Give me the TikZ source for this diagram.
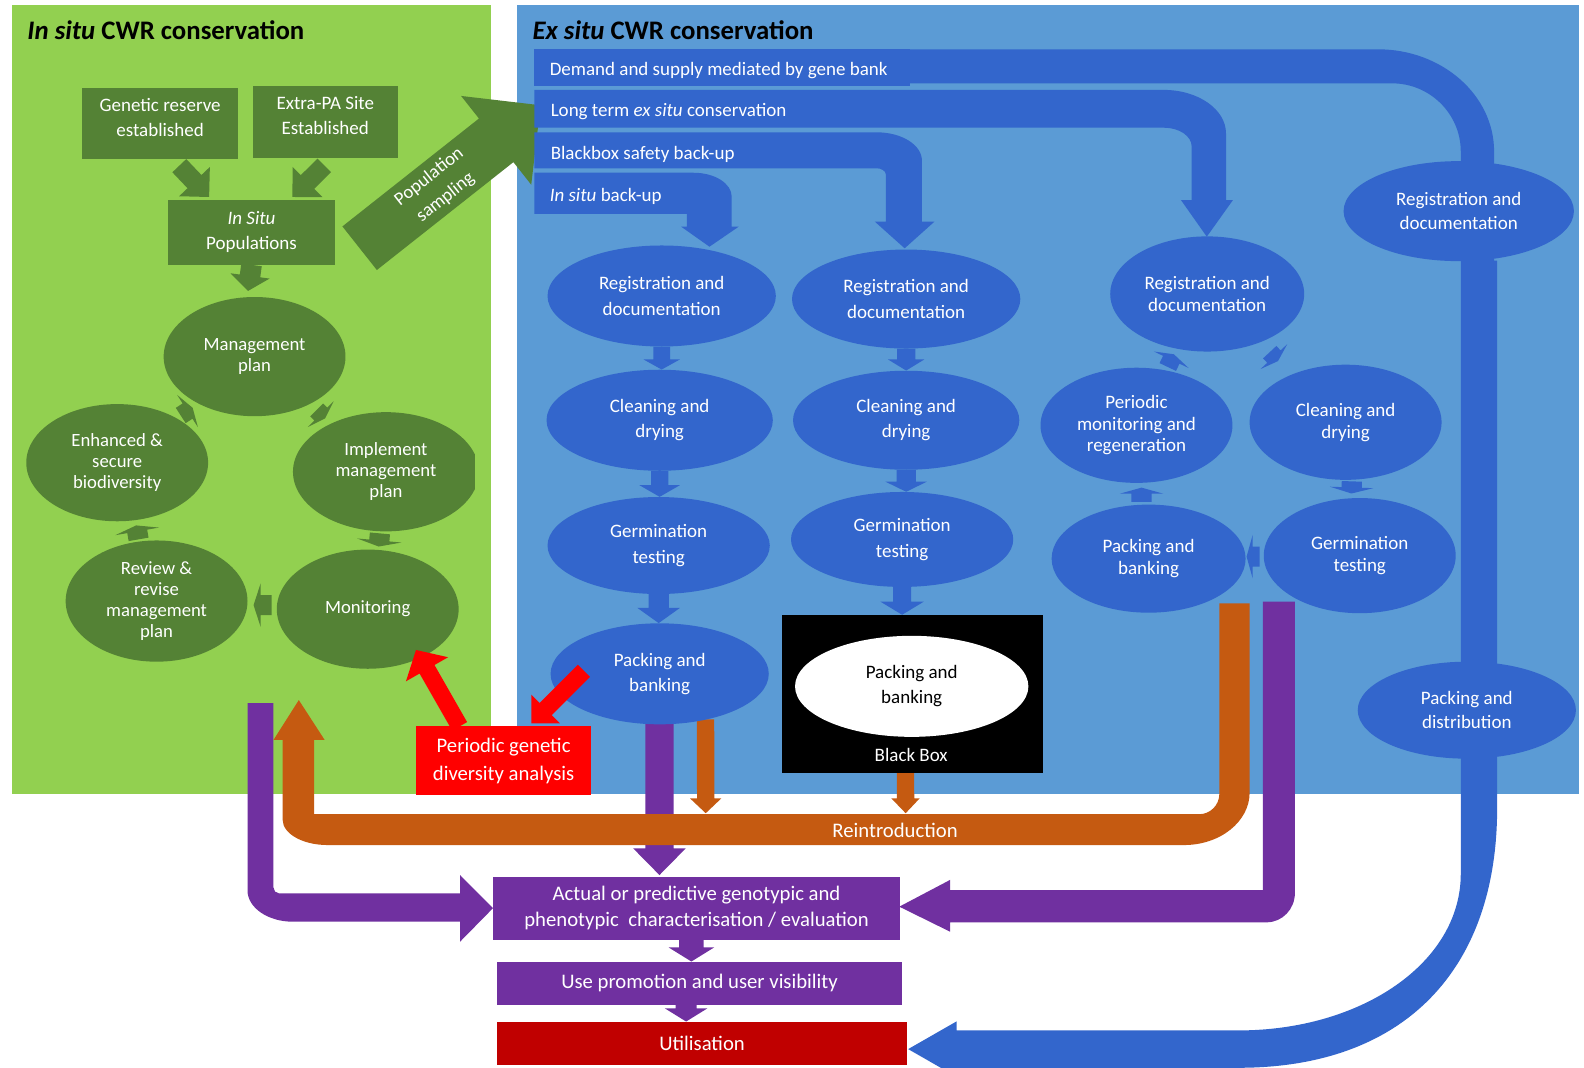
\documentclass[tikz,border=0pt]{standalone}
\usepackage{fontspec}
\setmainfont{Carlito}
\usetikzlibrary{shapes.geometric,calc}
\definecolor{lgreen}{HTML}{92D050}
\definecolor{dgreen}{HTML}{548235}
\definecolor{lblue}{HTML}{5B9BD5}
\definecolor{dblue}{HTML}{3366CC}
\definecolor{purp}{HTML}{7030A0}
\definecolor{orng}{HTML}{C55A11}
\definecolor{dred}{HTML}{C00000}
\definecolor{bred}{HTML}{FF0000}
\newcommand\myfs[2]{\fontsize{#1pt}{#2pt}\selectfont}
% block arrow: tail, tip, stem half width, head half width, head length, colour
\newcommand\barrow[6]{%
  \coordinate (hb) at ($(#2)!#5pt!(#1)$);
  \fill[#6] ($(#1)!#3pt!90:(#2)$) -- ($(hb)!#3pt!-90:(#1)$) -- ($(hb)!#4pt!-90:(#1)$) -- (#2)
    -- ($(hb)!#4pt!90:(#1)$) -- ($(hb)!#3pt!90:(#1)$) -- ($(#1)!#3pt!-90:(#2)$) -- cycle;
}
\begin{document}
\begin{tikzpicture}[x=1pt,y=-1pt,
  gbox/.style={rectangle, fill=dgreen, text=white, align=center, inner sep=0pt, font=\myfs{18.8}{25}},
  gell/.style={ellipse, fill=dgreen, text=white, align=center, inner sep=0pt, font=\myfs{18.5}{21}},
  bell/.style={ellipse, fill=dblue, text=white, align=center, inner sep=0pt, font=\myfs{18.8}{25}},
  bellc/.style={bell, font=\myfs{18.8}{21.5}},
  belld/.style={bell, font=\myfs{18.8}{24}},
  barlabel/.style={anchor=west, text=white, inner sep=0pt, font=\myfs{18.8}{22}},
  paneltitle/.style={anchor=west, inner sep=0pt, font=\bfseries\myfs{26.5}{30}},
  pbox/.style={rectangle, fill=purp, text=white, align=center, inner sep=0pt, font=\myfs{20.5}{25.5}},
]
\fill[white] (0,0) rectangle (1568,1057);
\useasboundingbox (0,0) rectangle (1568,1057);

% panels
\fill[lgreen] (12,5) rectangle (486,786);
\fill[lblue] (512,5) rectangle (1563,786);

% purple bands
\fill[purp] (245,696) -- (245,881.4) .. controls (245,898.5) and (265.2,912.4) .. (290,912.4)
  -- (455.4,912.4) -- (455.4,932.2) -- (488,899) -- (455.4,866.2) -- (455.4,884.3) -- (276,884.3)
  .. controls (273,884.3) and (270.7,881.5) .. (270.7,878.5) -- (270.7,696) -- cycle;
\fill[purp] (1250,595.6) -- (1281.8,595.6) -- (1281.8,884) .. controls (1281.8,900) and (1269.3,913) .. (1253.8,913)
  -- (940.5,913) -- (940.5,922.3) -- (890.2,897.5) -- (940.5,871) -- (940.5,881) -- (1250,881) -- cycle;
\coordinate (pAt) at (652.8,712);
\coordinate (pAh) at (652.8,866.2);
\barrow{pAt}{pAh}{14}{26}{26.4}{purp}

% orange reintroduction band
\fill[orng] (1207,597.3) -- (1237,597.3) -- (1237,784.5) .. controls (1237,813.2) and (1207.9,836.5) .. (1172,836.5)
  -- (324.3,836.5) .. controls (299.7,836.5) and (279.8,825.3) .. (279.8,811.5) -- (279.8,732.5) -- (270.7,732.5)
  -- (295.8,693) -- (321.4,732.5) -- (311,732.5) -- (311,806) -- (1187,806)
  .. controls (1198,806) and (1207,797) .. (1207,786) -- cycle;
\coordinate (oAt) at (698.4,712);
\coordinate (oAh) at (698.6,805);
\barrow{oAt}{oAh}{8.6}{15.5}{14.7}{orng}
\coordinate (oBt) at (896.3,765);
\coordinate (oBh) at (896.5,805);
\barrow{oBt}{oBh}{8.6}{14}{14.7}{orng}
\node[text=white, font=\myfs{20.5}{24}, inner sep=0pt] (Rein) at (886,821.6) {Reintroduction};

% big blue band (demand and supply)
\fill[dblue] (529,48.8) rectangle (901,85);
\fill[dblue] (529,48.8) -- (1364,48.8) .. controls (1427.5,48.8) and (1479,94.2) .. (1479,150) -- (1479,258)
  -- (1482,258) -- (1482,800) .. controls (1482,960) and (1390,1057) .. (1226,1057) -- (947,1057) -- (947,1066)
  -- (899,1038.5) -- (947,1011) -- (947,1020) -- (1226,1020) .. controls (1347.4,1020) and (1446,953.2) .. (1446,865)
  -- (1446,150) .. controls (1446,112.7) and (1415.5,82.5) .. (1378,82.5) -- (529,82.5) -- cycle;

% population sampling arrow
\coordinate (psT) at (356,245.7);
\coordinate (psH) at (535.1,104.2);
\barrow{psT}{psH}{27.5}{56}{56}{dgreen}
\node[rotate=38.3, text=white, align=center, inner sep=0pt, font=\myfs{18.5}{26}] (psL) at (433,185.3) {Population\\sampling};

% blue bars
\fill[dblue] (529,89) -- (1152,89) .. controls (1186,89) and (1213.6,108.3) .. (1213.6,132) -- (1213.6,198)
  -- (1220.5,198) -- (1194.6,234.3) -- (1169,198) -- (1179.6,198) -- (1179.6,145)
  .. controls (1179.6,134.5) and (1167.2,126.4) .. (1152,126.4) -- (529,126.4) -- cycle;
\fill[dblue] (529,131) -- (868,131) .. controls (892.6,131) and (912.6,143.5) .. (912.6,159) -- (912.6,219.4)
  -- (925,219.4) -- (895.5,245.8) -- (866,219.4) -- (877,219.4) -- (877,173)
  .. controls (877,169) and (872,166.6) .. (868,166.6) -- (529,166.6) -- cycle;
\fill[dblue] (529,171) -- (686.6,171) .. controls (707.4,171) and (724.3,181.6) .. (724.3,194.7) -- (724.3,224.4)
  -- (731.2,224.4) -- (702.3,244.2) -- (674.3,224.4) -- (680,224.4) -- (680,211.8) -- (529,211.8) -- cycle;

% titles and bar labels
\node[paneltitle] (tIn) at (27,30) {\textit{In situ} CWR conservation};
\node[paneltitle] (tEx) at (527,30) {\textit{Ex situ} CWR conservation};
\node[barlabel] (lb1) at (544,69.6) {Demand and supply mediated by gene bank};
\node[barlabel] (lb2) at (545,110) {Long term \textit{ex situ} conservation};
\node[barlabel] (lb3) at (545,152.5) {Blackbox safety back-up};
\node[barlabel] (lb4) at (544,194) {\textit{In situ} back-up};

% green boxes
\node[gbox, text depth=12pt, minimum width=155pt, minimum height=70pt] (GR) at (158.5,122) {Genetic reserve\\established};
\node[gbox, text depth=13pt, minimum width=144pt, minimum height=71pt] (EPA) at (322,120.5) {Extra-PA Site\\Established};
\node[gbox, minimum width=166pt, minimum height=64pt] (ISP) at (249,230) {\textit{In Situ}\\Populations};

% green ellipses
\node[gell, minimum width=180pt, minimum height=118pt] (MP) at (252,353) {Management\\plan};
\node[gell, minimum width=180pt, minimum height=116pt] (EB) at (116,458) {Enhanced \&\\secure\\biodiversity};
\begin{scope}
\clip (0,0) rectangle (470,1057);
\node[gell, minimum width=184pt, minimum height=118pt] (IMP) at (382,467) {Implement\\management\\plan};
\end{scope}
\node[gell, minimum width=180pt, minimum height=118pt] (MON) at (364,603) {Monitoring};
\node[gell, minimum width=180pt, minimum height=120pt] (RR) at (155,595) {Review \&\\revise\\management\\plan};

% blue ellipses
\node[bell, minimum width=226pt, minimum height=100pt] (RegA) at (655,293) {Registration and\\documentation};
\node[bell, minimum width=224pt, minimum height=100pt] (CleanA) at (653,416) {Cleaning and\\drying};
\node[bell, minimum width=220pt, minimum height=96pt] (GermA) at (652,540) {Germination\\testing};
\node[bell, minimum width=216pt, minimum height=100pt] (PackA) at (653,667) {Packing and\\banking};
\node[bell, minimum width=226pt, minimum height=98pt] (RegB) at (897,296) {Registration and\\documentation};
\node[bell, minimum width=224pt, minimum height=98pt] (CleanB) at (897,416) {Cleaning and\\drying};
\node[bell, minimum width=220pt, minimum height=94pt] (GermB) at (893,534) {Germination\\testing};
\node[bellc, minimum width=192pt, minimum height=114pt] (RegC) at (1195,291) {Registration and\\documentation};
\node[bellc, minimum width=190pt, minimum height=114pt] (PerC) at (1125,421) {Periodic\\monitoring and\\regeneration};
\node[bellc, minimum width=190pt, minimum height=114pt] (CleanC) at (1332,418) {Cleaning and\\drying};
\node[bellc, minimum width=190pt, minimum height=114pt] (GermC) at (1346,550) {Germination\\testing};
\node[bellc, minimum width=192pt, minimum height=107pt] (PackC) at (1137,553) {Packing and\\banking};
\node[belld, minimum width=228pt, minimum height=99pt] (RegD) at (1444,209) {Registration and\\documentation};
\node[belld, minimum width=216pt, minimum height=96pt] (PackD) at (1452,703) {Packing and\\distribution};

% black box
\node[rectangle, fill=black, minimum width=258pt, minimum height=156.5pt, inner sep=0pt] (BB) at (903,687) {};
\node[ellipse, fill=white, text=black, align=center, inner sep=0pt, minimum width=231pt, minimum height=100pt, font=\myfs{18.8}{25}] (BBe) at (902.5,679.4) {Packing and\\banking};
\node[text=white, inner sep=0pt, font=\myfs{18.8}{22}] (BBl) at (902,747) {Black Box};

% bottom boxes
\node[pbox, minimum width=403pt, minimum height=62.5pt] (Char) at (689.5,899) {Actual or predictive genotypic and\\phenotypic\ \ characterisation / evaluation};
\node[pbox, minimum width=401pt, minimum height=43pt] (Use) at (692.5,973.5) {Use promotion and user visibility};
\node[pbox, fill=dred, minimum width=406pt, minimum height=42.6pt] (Util) at (695,1032.7) {Utilisation};
\node[pbox, fill=bred, font=\myfs{20.5}{28}, minimum width=173pt, minimum height=68pt] (PGDA) at (498.5,753) {Periodic genetic\\diversity analysis};

% green small arrows (boxes)
\coordinate (g1t) at (177.5,164); \coordinate (g1h) at (207,195);
\barrow{g1t}{g1h}{9.5}{21}{21}{dgreen}
\coordinate (g2t) at (321,163.7); \coordinate (g2h) at (289.5,195);
\barrow{g2t}{g2h}{9.5}{21}{21}{dgreen}
\coordinate (g3t) at (ISP.south); \coordinate (g3h) at (245.5,288);
\barrow{g3t}{g3h}{10.2}{19.5}{15}{dgreen}

% green cycle arrows
\coordinate (c1t) at (178.9,411.3); \coordinate (c1h) at (190.7,403.7);
\barrow{c1t}{c1h}{9}{19}{6}{dgreen}
\coordinate (c2t) at (313.4,405.8); \coordinate (c2h) at (321.8,414.2);
\barrow{c2t}{c2h}{9}{18}{6}{dgreen}
\coordinate (c3t) at (376.1,528); \coordinate (c3h) at (374.9,541);
\barrow{c3t}{c3h}{10}{22}{6}{dgreen}
\coordinate (c4t) at (269,599); \coordinate (c4h) at (251,599);
\barrow{c4t}{c4h}{10}{21.5}{7}{dgreen}
\coordinate (c5t) at (137.2,533.9); \coordinate (c5h) at (134.8,520.1);
\barrow{c5t}{c5h}{10}{22}{6}{dgreen}

% blue column arrows
\coordinate (a1t) at (RegA.south); \coordinate (a1h) at (a1t |- CleanA.north);
\barrow{a1t}{a1h}{8.3}{18}{10}{dblue}
\coordinate (a2t) at (CleanA.south); \coordinate (a2h) at (a2t |- GermA.north);
\barrow{a2t}{a2h}{8.5}{20}{11.5}{dblue}
\coordinate (a3t) at (GermA.south); \coordinate (a3h) at (a3t |- PackA.north);
\barrow{a3t}{a3h}{10}{21}{15}{dblue}
\coordinate (b1t) at (RegB.south); \coordinate (b1h) at (b1t |- CleanB.north);
\barrow{b1t}{b1h}{9}{18}{11}{dblue}
\coordinate (b2t) at (CleanB.south); \coordinate (b2h) at (b2t |- GermB.north);
\barrow{b2t}{b2h}{9.5}{20.5}{10}{dblue}
\coordinate (b3t) at (GermB.south); \coordinate (b3h) at (b3t |- BB.north);
\barrow{b3t}{b3h}{9}{21.5}{13}{dblue}

% blue cycle arrows
\coordinate (d1t) at (1156,363.3); \coordinate (d1h) at (1162,350.7);
\barrow{d1t}{d1h}{9}{19}{6}{dblue}
\coordinate (d2t) at (1256.9,348.6); \coordinate (d2h) at (1265.1,357.4);
\barrow{d2t}{d2h}{9}{18}{6}{dblue}
\coordinate (d3t) at (1338.2,476.5); \coordinate (d3h) at (1337.8,488.5);
\barrow{d3t}{d3h}{10}{21.5}{6}{dblue}
\coordinate (d4t) at (1247,551); \coordinate (d4h) at (1234,551);
\barrow{d4t}{d4h}{10}{21.5}{6}{dblue}
\coordinate (d5t) at (1130,496.7); \coordinate (d5h) at (1130,482.7);
\barrow{d5t}{d5h}{10}{21.5}{6}{dblue}

% purple box arrows
\coordinate (e1t) at (684.4,930.5); \coordinate (e1h) at (e1t |- Use.north);
\barrow{e1t}{e1h}{12.2}{22.6}{14}{purp}
\coordinate (e2t) at (679.2,994.8); \coordinate (e2h) at (e2t |- Util.north);
\barrow{e2t}{e2h}{10.4}{21}{13}{purp}

% red arrows
\coordinate (r1t) at (455,719); \coordinate (r1h) at (411.8,643.4);
\barrow{r1t}{r1h}{8.5}{24}{22}{bred}
\coordinate (r2t) at (578,664); \coordinate (r2h) at (526,716);
\barrow{r2t}{r2h}{8.5}{20}{20}{bred}
\end{tikzpicture}
\end{document}
